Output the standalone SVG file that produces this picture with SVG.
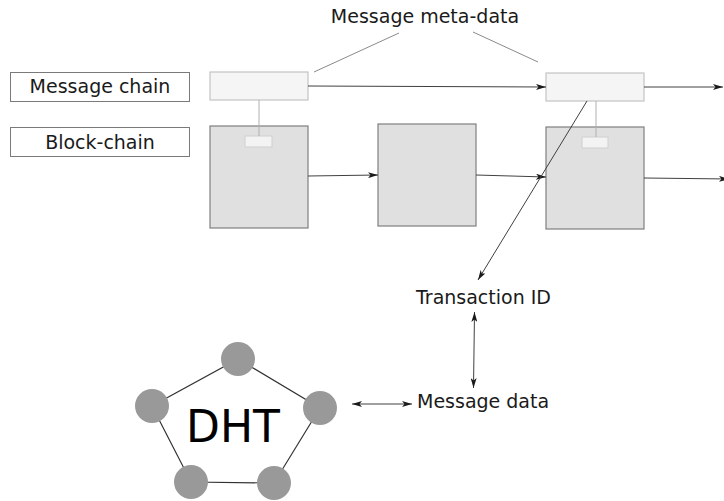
<svg xmlns="http://www.w3.org/2000/svg" width="724" height="501" viewBox="0 0 724 501">
  <style>
    text { font-family: "DejaVu Sans", "Liberation Sans", sans-serif; fill: #1a1a1a; }
    .lbl { font-size: 19px; }
    .labelbox { fill: #ffffff; stroke: #7a7a7a; stroke-width: 1; }
    .msg { fill: #f5f5f5; stroke: #c4c4c4; stroke-width: 1.2; }
    .block { fill: #e0e0e0; stroke: #7f7f7f; stroke-width: 1.2; }
    .tag { fill: #f3f3f3; stroke: #cfcfcf; stroke-width: 1; }
    .link { stroke: #b0b0b0; stroke-width: 1; fill: none; }
    .arrow { stroke: #404040; stroke-width: 1; fill: none; }
    .thin { stroke: #8a8a8a; stroke-width: 1; fill: none; }
    .node { fill: #999999; }
    .ring { stroke: #333333; stroke-width: 1.2; fill: none; }
  </style>
  <defs>
    <marker id="ah" viewBox="0 0 10 6" refX="10" refY="3" markerWidth="10" markerHeight="6" markerUnits="userSpaceOnUse" orient="auto-start-reverse">
      <path d="M0,0 L10,3 L0,6 L2.5,3 Z" fill="#1a1a1a"/>
    </marker>
  </defs>

  <text class="lbl" x="425" y="23" text-anchor="middle">Message meta-data</text>

  <g id="label-message-chain">
    <rect class="labelbox" x="10.5" y="72.5" width="179" height="29"/>
    <text class="lbl" x="100" y="93" text-anchor="middle">Message chain</text>
  </g>
  <g id="label-block-chain">
    <rect class="labelbox" x="10.5" y="127.5" width="179" height="29"/>
    <text class="lbl" x="100" y="149" text-anchor="middle">Block-chain</text>
  </g>

  <g id="msg-1"><rect class="msg" x="210" y="72" width="98" height="28"/></g>
  <g id="msg-2"><rect class="msg" x="546" y="73" width="98" height="28"/></g>

  <g id="block-1">
    <rect class="block" x="210" y="126" width="98" height="102"/>
    <rect class="tag" x="245" y="136" width="27" height="11"/>
  </g>
  <g id="block-2">
    <rect class="block" x="378" y="124" width="98" height="102"/>
  </g>
  <g id="block-3">
    <rect class="block" x="546" y="127" width="98" height="102"/>
    <rect class="tag" x="582" y="137" width="26" height="11"/>
  </g>

  <g id="transaction-id">
    <text class="lbl" x="416" y="304">Transaction ID</text>
  </g>
  <g id="message-data">
    <text class="lbl" x="417" y="408">Message data</text>
  </g>

  <g id="connectors">
    <!-- meta-data callouts -->
    <line class="thin" x1="399" y1="33" x2="314" y2="72"/>
    <line class="thin" x1="473" y1="32" x2="538" y2="62"/>
    <!-- message chain links to block tags -->
    <line class="link" x1="259" y1="100" x2="259" y2="136"/>
    <line class="link" x1="596" y1="101" x2="596" y2="137"/>
    <!-- message chain -->
    <line class="arrow" x1="308" y1="86" x2="546" y2="87" marker-end="url(#ah)"/>
    <line class="arrow" x1="644" y1="87" x2="723" y2="87" marker-end="url(#ah)"/>
    <!-- block chain -->
    <line class="arrow" x1="308" y1="176" x2="378" y2="175" marker-end="url(#ah)"/>
    <line class="arrow" x1="476" y1="175" x2="546" y2="177" marker-end="url(#ah)"/>
    <line class="arrow" x1="644" y1="178" x2="729" y2="179" marker-end="url(#ah)"/>
    <!-- message to transaction id -->
    <line class="arrow" x1="587" y1="101" x2="478" y2="280" marker-end="url(#ah)"/>
    <!-- transaction id <-> message data -->
    <line class="arrow" x1="474.5" y1="312" x2="473.5" y2="388" marker-start="url(#ah)" marker-end="url(#ah)"/>
    <!-- DHT <-> message data -->
    <line class="arrow" x1="352" y1="404" x2="412" y2="404" marker-start="url(#ah)" marker-end="url(#ah)"/>
  </g>

  <g id="dht">
    <polygon class="ring" points="238,359 320,408 274,483 191,482 152,406"/>
    <circle class="node" cx="238" cy="359" r="17"/>
    <circle class="node" cx="320" cy="408" r="17"/>
    <circle class="node" cx="274" cy="483" r="17"/>
    <circle class="node" cx="191" cy="482" r="17"/>
    <circle class="node" cx="152" cy="406" r="17"/>
    <text x="233" y="442" font-size="44" text-anchor="middle" style="fill:#000">DHT</text>
  </g>
</svg>
